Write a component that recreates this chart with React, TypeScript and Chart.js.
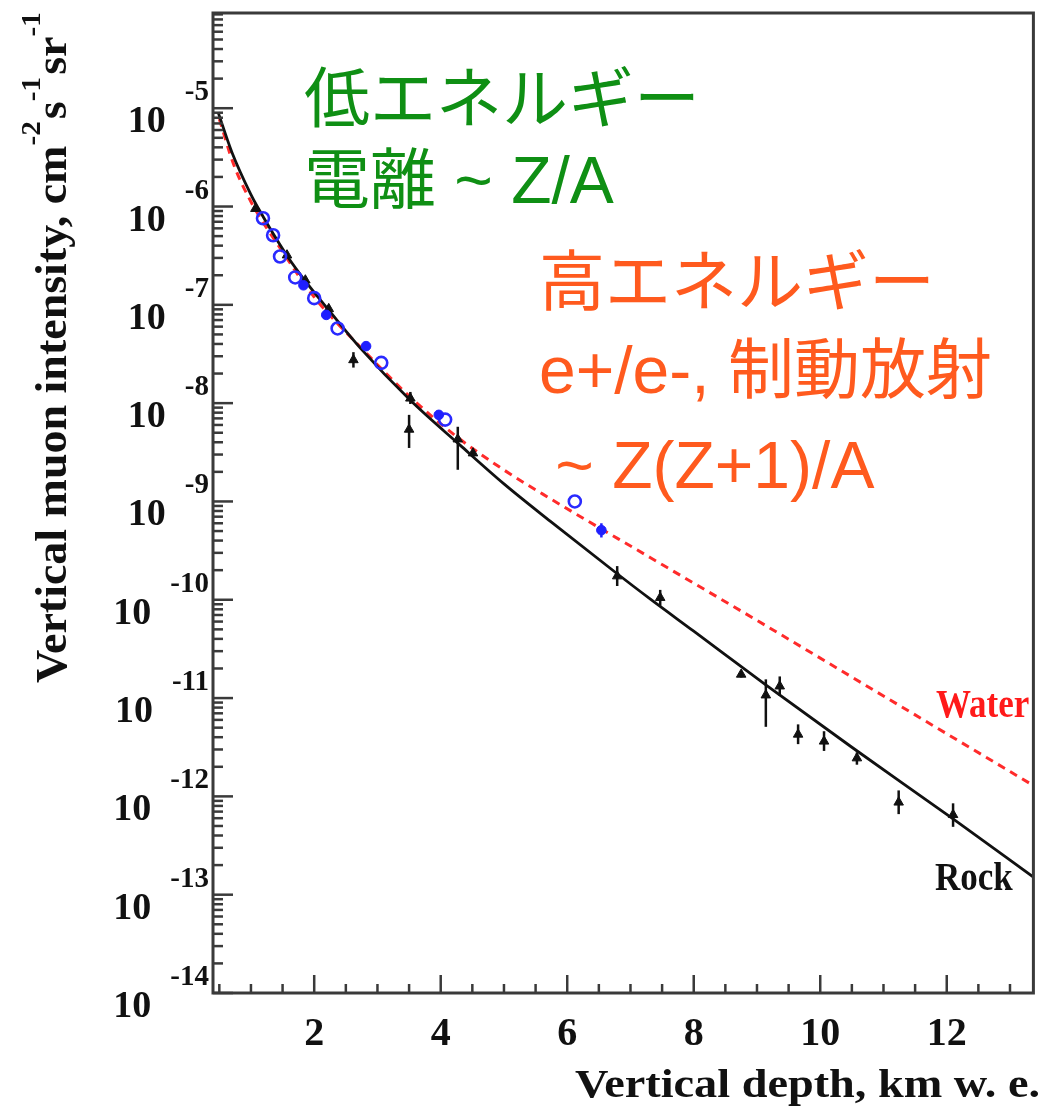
import { useEffect, useRef } from "react";
import { Chart, registerables } from "chart.js";

Chart.register(...registerables);

// Fitted vertical intensity curves: depth (km w.e.) -> intensity (cm^-2 s^-1 sr^-1)
const rockDepth = [0.48, 0.7, 1.0, 1.1, 1.57, 1.885, 2.25, 2.73, 3.52, 4.31, 5.0, 5.73, 6.78, 7.31, 8.0, 9.15, 10.5, 12.1, 13.37];
const rockIntensity = [9.12e-6, 3.55e-6, 1.32e-6, 1.0e-6, 3.16e-7, 1.66e-7, 8.51e-8, 3.63e-8, 1.07e-8, 3.72e-9, 1.51e-9, 6.31e-10, 1.86e-10, 1.02e-10, 4.79e-11, 1.35e-11, 3.16e-12, 5.89e-13, 1.51e-13];

const waterDepth = [0.5, 0.72, 1.0, 1.5, 2.0, 2.73, 3.52, 4.25, 5.0, 5.73, 7.31, 9.0, 11.0, 13.37];
const waterIntensity = [7.76e-6, 2.75e-6, 1.12e-6, 3.47e-7, 1.2e-7, 3.72e-8, 1.15e-8, 4.57e-9, 2.09e-9, 1.07e-9, 2.69e-10, 6.17e-11, 1.05e-11, 1.29e-12];

// Measurements (black triangles) with error bars
const blackDepth = [1.07, 1.57, 1.86, 2.23, 2.62, 3.52, 3.5, 4.27, 4.51, 6.79, 7.47, 8.75, 9.14, 9.36, 9.65, 10.06, 10.58, 11.24, 12.1];
const blackIntensity = [9.5e-7, 3.2e-7, 1.78e-7, 9.1e-8, 2.75e-8, 1.12e-8, 5.4e-9, 4.3e-9, 3.1e-9, 1.74e-10, 1.05e-10, 1.74e-11, 1.07e-11, 1.32e-11, 4.27e-12, 3.63e-12, 2.45e-12, 8.7e-13, 6.5e-13];
const blackErrLow = [9.5e-7, 3.2e-7, 1.78e-7, 9.1e-8, 2.3e-8, 9.8e-9, 3.5e-9, 2.1e-9, 3.1e-9, 1.38e-10, 8.7e-11, 1.62e-11, 5.1e-12, 1.05e-11, 3.4e-12, 2.9e-12, 2.1e-12, 6.6e-13, 4.9e-13];
const blackErrHigh = [9.5e-7, 3.2e-7, 1.78e-7, 9.1e-8, 3.3e-8, 1.3e-8, 7.6e-9, 5.75e-9, 3.1e-9, 2.2e-10, 1.26e-10, 1.9e-11, 1.55e-11, 1.66e-11, 5.4e-12, 4.6e-12, 2.8e-12, 1.15e-12, 8.5e-13];

// Measurements (blue open circles)
const blueOpenDepth = [1.19, 1.35, 1.46, 1.7, 2.0, 2.37, 3.06, 4.07, 6.12];
const blueOpenIntensity = [7.6e-7, 5.1e-7, 3.1e-7, 1.9e-7, 1.17e-7, 5.75e-8, 2.57e-8, 6.8e-9, 1.0e-9];

// Measurements (blue filled circles)
const blueFilledDepth = [1.83, 2.19, 2.82, 3.97, 6.54];
const blueFilledIntensity = [1.58e-7, 7.9e-8, 3.8e-8, 7.6e-9, 5.1e-10];
const blueFilledErrLow = [1.58e-7, 7.9e-8, 3.8e-8, 7.6e-9, 4.3e-10];
const blueFilledErrHigh = [1.58e-7, 7.9e-8, 3.8e-8, 7.6e-9, 6.0e-10];

// Axis ticks
const depthTicks = [2, 4, 6, 8, 10, 12];
const decadeExponents = [-5, -6, -7, -8, -9, -10, -11, -12, -13, -14];

const DEPTH_MIN = 0.4;
const DEPTH_MAX = 13.37;
const INTENSITY_MIN = 1e-14;
const INTENSITY_MAX = 9.3e-5;

const SERIF = '"Liberation Serif", "Times New Roman", serif';
const SANS_JP = '"Liberation Sans", "Noto Sans CJK JP", sans-serif';

const toXY = (xs: number[], ys: number[]) => xs.map((x, i) => ({ x, y: ys[i] }));

const errorBarPlugin = {
  id: "errorBars",
  beforeDatasetsDraw(chart: any) {
    const { ctx } = chart;
    const xs = chart.scales.x;
    const ys = chart.scales.y;
    const draw = (d: number[], lo: number[], hi: number[], color: string) => {
      ctx.strokeStyle = color;
      ctx.lineWidth = 2.5;
      d.forEach((v: number, i: number) => {
        if (lo[i] === hi[i]) return;
        const px = xs.getPixelForValue(v);
        ctx.beginPath();
        ctx.moveTo(px, ys.getPixelForValue(hi[i]));
        ctx.lineTo(px, ys.getPixelForValue(lo[i]));
        ctx.stroke();
      });
    };
    ctx.save();
    draw(blackDepth, blackErrLow, blackErrHigh, "#111");
    draw(blueFilledDepth, blueFilledErrLow, blueFilledErrHigh, "#1f1fff");
    ctx.restore();
  },
};

const framePlugin = {
  id: "frameTicks",
  afterDatasetsDraw(chart: any) {
    const { ctx, chartArea: a } = chart;
    const xs = chart.scales.x;
    const ys = chart.scales.y;
    ctx.save();
    ctx.strokeStyle = "#3a3a3a";
    ctx.lineWidth = 2.5;
    // left axis ticks (log decades with 2..9 subdivisions)
    for (let e = -14; e <= -5; e++) {
      for (let m = 1; m <= 9; m++) {
        const v = m * Math.pow(10, e);
        if (v < INTENSITY_MIN || v > INTENSITY_MAX) continue;
        const py = ys.getPixelForValue(v);
        const len = m === 1 ? 20 : 10;
        ctx.beginPath();
        ctx.moveTo(a.left, py);
        ctx.lineTo(a.left + len, py);
        ctx.stroke();
      }
    }
    // bottom axis ticks every 0.5 km w.e.
    for (let k = 1; k * 0.5 <= DEPTH_MAX; k++) {
      const v = k * 0.5;
      if (v < DEPTH_MIN) continue;
      const px = xs.getPixelForValue(v);
      const len = depthTicks.includes(v) ? 18 : 9;
      ctx.beginPath();
      ctx.moveTo(px, a.bottom);
      ctx.lineTo(px, a.bottom - len);
      ctx.stroke();
    }
    ctx.lineWidth = 3;
    ctx.strokeRect(a.left, a.top, a.right - a.left, a.bottom - a.top);
    ctx.restore();
  },
};

function stretchedText(ctx: CanvasRenderingContext2D, text: string, x: number, y: number, sx: number, sy: number, align: CanvasTextAlign) {
  ctx.save();
  ctx.translate(x, y);
  ctx.scale(sx, sy);
  ctx.textAlign = align;
  ctx.fillText(text, 0, 0);
  ctx.restore();
}

const labelPlugin = {
  id: "labels",
  afterDraw(chart: any) {
    const { ctx } = chart;
    const xs = chart.scales.x;
    const ys = chart.scales.y;
    ctx.save();
    ctx.textBaseline = "alphabetic";
    ctx.fillStyle = "#111";

    // y tick labels: 10 with superscript exponent
    decadeExponents.forEach((e) => {
      const py = ys.getPixelForValue(Math.pow(10, e));
      const expText = "-" + Math.abs(e);
      ctx.font = `bold 29px ${SERIF}`;
      ctx.textAlign = "right";
      const wE = ctx.measureText(expText).width;
      ctx.fillText(expText, 209, py - 8);
      ctx.font = `bold 38px ${SERIF}`;
      ctx.fillText("10", 209 - wE - 19, py + 24);
    });

    // x tick labels
    ctx.font = `bold 40px ${SERIF}`;
    ctx.textAlign = "center";
    depthTicks.forEach((v) => {
      ctx.fillText(String(v), xs.getPixelForValue(v), 1045);
    });

    // x axis title
    ctx.font = `bold 40px ${SERIF}`;
    const xTitle = "Vertical depth, km w. e.";
    const wx = ctx.measureText(xTitle).width;
    stretchedText(ctx, xTitle, 1040, 1097, 465 / wx, 1, "right");

    // y axis title (rotated, with superscripts)
    const parts: [string, boolean][] = [
      ["Vertical muon intensity, cm", false],
      ["-2", true],
      ["s", false],
      ["-1", true],
      ["sr", false],
      ["-1", true],
    ];
    const mainFont = `bold 44px ${SERIF}`;
    const supFont = `bold 28px ${SERIF}`;
    let total = 0;
    const widths = parts.map(([t, sup]) => {
      ctx.font = sup ? supFont : mainFont;
      const w = ctx.measureText(t).width + (sup ? 2 : 0);
      total += w;
      return w;
    });
    const s = 673 / total;
    ctx.save();
    ctx.translate(66, 683);
    ctx.rotate(-Math.PI / 2);
    ctx.scale(s, 1);
    ctx.textAlign = "left";
    let cx = 0;
    parts.forEach(([t, sup], i) => {
      ctx.font = sup ? supFont : mainFont;
      ctx.fillText(t, cx, sup ? -26 : 0);
      cx += widths[i];
    });
    ctx.restore();

    // curve labels
    ctx.font = `bold 35px ${SERIF}`;
    ctx.fillStyle = "#ff1a1a";
    stretchedText(ctx, "Water", 936, 717, 1, 1.12, "left");
    ctx.fillStyle = "#111";
    stretchedText(ctx, "Rock", 935, 890, 1, 1.12, "left");

    // physics annotations
    ctx.textAlign = "left";
    ctx.font = `66px ${SANS_JP}`;
    ctx.fillStyle = "#0f8f14";
    ctx.fillText("低エネルギー", 304, 122);
    ctx.fillText("電離 ~ Z/A", 304, 203);
    ctx.fillStyle = "#ff5a1e";
    ctx.fillText("高エネルギー", 539, 305);
    ctx.fillText("e+/e-, 制動放射", 539, 393);
    ctx.fillText(" ~ Z(Z+1)/A", 537, 488);

    ctx.restore();
  },
};

export default function App() {
  const canvasRef = useRef<HTMLCanvasElement | null>(null);

  useEffect(() => {
    const canvas = canvasRef.current;
    if (!canvas) return;
    const chart = new Chart(canvas, {
      type: "scatter",
      data: {
        datasets: [
          {
            label: "Water",
            data: toXY(waterDepth, waterIntensity),
            showLine: true,
            borderColor: "#ff2b2b",
            borderWidth: 3,
            borderDash: [8, 6],
            pointRadius: 0,
            cubicInterpolationMode: "monotone",
            order: 4,
          },
          {
            label: "Rock",
            data: toXY(rockDepth, rockIntensity),
            showLine: true,
            borderColor: "#111",
            borderWidth: 2.8,
            pointRadius: 0,
            cubicInterpolationMode: "monotone",
            order: 3,
          },
          {
            label: "black",
            data: toXY(blackDepth, blackIntensity),
            pointStyle: "triangle",
            pointRadius: 5.5,
            backgroundColor: "#111",
            borderColor: "#111",
            borderWidth: 1,
            order: 2,
          },
          {
            label: "blue open",
            data: toXY(blueOpenDepth, blueOpenIntensity),
            pointStyle: "circle",
            pointRadius: 6,
            backgroundColor: "rgba(0,0,0,0)",
            borderColor: "#2a2aff",
            borderWidth: 2.6,
            order: 1,
          },
          {
            label: "blue filled",
            data: toXY(blueFilledDepth, blueFilledIntensity),
            pointStyle: "circle",
            pointRadius: 4.8,
            backgroundColor: "#1f1fff",
            borderColor: "#1f1fff",
            borderWidth: 1,
            order: 0,
          },
        ],
      },
      options: {
        responsive: false,
        animation: false,
        devicePixelRatio: 1,
        events: [],
        layout: { padding: { left: 0, top: 13, right: 8, bottom: 0 } },
        plugins: { legend: { display: false }, tooltip: { enabled: false } },
        scales: {
          x: {
            type: "linear",
            min: DEPTH_MIN,
            max: DEPTH_MAX,
            grid: { display: false },
            border: { display: false },
            ticks: { display: false },
            afterFit: (scale: any) => {
              scale.height = 119;
            },
          },
          y: {
            type: "logarithmic",
            min: INTENSITY_MIN,
            max: INTENSITY_MAX,
            grid: { display: false },
            border: { display: false },
            ticks: { display: false },
            afterFit: (scale: any) => {
              scale.width = 213;
            },
          },
        },
      },
      plugins: [errorBarPlugin, framePlugin, labelPlugin],
    } as any);
    return () => chart.destroy();
  }, []);

  return (
    <div style={{ position: "absolute", left: 0, top: 0, width: 1042, height: 1112, background: "#fff" }}>
      <canvas ref={canvasRef} width={1042} height={1112} style={{ display: "block" }} />
    </div>
  );
}
